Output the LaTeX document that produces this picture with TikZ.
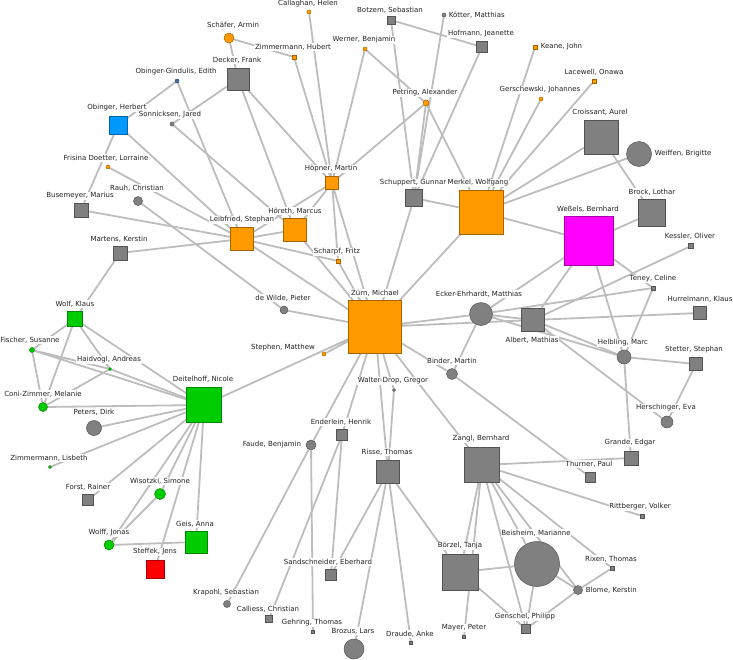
\documentclass[tikz,border=0pt]{standalone}
\usepackage{fontspec}
\setmainfont{DejaVu Sans}
\usetikzlibrary{backgrounds}
\definecolor{NetOrange}{HTML}{FF9900}
\definecolor{NetGray}{HTML}{808080}
\definecolor{NetGreen}{HTML}{00CC00}
\definecolor{NetMagenta}{HTML}{FF00FF}
\definecolor{NetBlue}{HTML}{0099FF}
\definecolor{NetSlate}{HTML}{3F6E9E}
\definecolor{NetRed}{HTML}{FF0000}
\definecolor{NetLink}{HTML}{BDBDBD}
\definecolor{NetText}{HTML}{222222}
\tikzset{
  sq/.style={rectangle, draw=#1!65!black, fill=#1, line width=0.5pt, inner sep=0pt},
  rnd/.style={circle, draw=#1!65!black, fill=#1, line width=0.5pt, inner sep=0pt},
  lbl/.style={fill=white, inner sep=0.7pt, text=NetText, font=\fontsize{7}{8.4}\selectfont},
  lnk/.style={draw=NetLink, line width=1.8pt}
}

\begin{document}
\begin{tikzpicture}[x=1pt, y=-1pt]
\useasboundingbox (0,0) rectangle (733,659);
% nodes
\node[rnd=NetOrange, minimum size=4pt] (callaghan) at (309,12) {};
\node[sq=NetGray, minimum size=8pt] (botzem) at (391,20) {};
\node[rnd=NetGray, minimum size=4pt] (koetter) at (444,15) {};
\node[rnd=NetOrange, minimum size=10pt] (schaefer) at (229,38) {};
\node[sq=NetOrange, minimum size=4pt] (zimmermannh) at (294,57) {};
\node[rnd=NetOrange, minimum size=4pt] (werner) at (365,49) {};
\node[sq=NetGray, minimum size=11pt] (hofmann) at (482,47) {};
\node[sq=NetOrange, minimum size=4pt] (keane) at (535,47) {};
\node[sq=NetGray, minimum size=22pt] (decker) at (238,79) {};
\node[rnd=NetSlate, minimum size=4pt] (obingerg) at (177,81) {};
\node[sq=NetOrange, minimum size=4pt] (lacewell) at (594,81) {};
\node[rnd=NetOrange, minimum size=6pt] (petring) at (426,103) {};
\node[rnd=NetOrange, minimum size=4pt] (gerschewski) at (541,99) {};
\node[sq=NetBlue, minimum size=18pt] (obinger) at (118,125) {};
\node[rnd=NetGray, minimum size=4pt] (sonnicksen) at (172,124) {};
\node[sq=NetGray, minimum size=34pt] (croissant) at (601,137) {};
\node[rnd=NetGray, minimum size=25pt] (weiffen) at (639,154) {};
\node[rnd=NetOrange, minimum size=4pt] (frisina) at (108,167) {};
\node[sq=NetOrange, minimum size=13pt] (hoepner) at (332,183) {};
\node[sq=NetGray, minimum size=17pt] (schuppert) at (414,198) {};
\node[sq=NetOrange, minimum size=44pt] (merkel) at (481,212) {};
\node[rnd=NetGray, minimum size=9pt] (rauh) at (138,201) {};
\node[sq=NetGray, minimum size=14pt] (busemeyer) at (81,210) {};
\node[sq=NetGray, minimum size=27pt] (brock) at (652,213) {};
\node[sq=NetOrange, minimum size=23pt] (leibfried) at (242,239) {};
\node[sq=NetOrange, minimum size=23pt] (hoereth) at (295,230) {};
\node[sq=NetMagenta, minimum size=49pt] (wessels) at (589,241) {};
\node[sq=NetOrange, minimum size=4pt] (scharpf) at (338,261) {};
\node[sq=NetGray, minimum size=14pt] (martens) at (120,253) {};
\node[sq=NetGray, minimum size=5pt] (kessler) at (691,246) {};
\node[sq=NetGray, minimum size=4pt] (teney) at (653,288) {};
\node[sq=NetGray, minimum size=13pt] (hurrelmann) at (700,313) {};
\node[rnd=NetGray, minimum size=8pt] (dewilde) at (284,310) {};
\node[sq=NetOrange, minimum size=53pt] (zuern) at (375,327) {};
\node[rnd=NetGray, minimum size=23pt] (ecker) at (481,314) {};
\node[sq=NetGreen, minimum size=15pt] (wolfk) at (75,319) {};
\node[sq=NetGray, minimum size=23pt] (albert) at (533,320) {};
\node[rnd=NetGreen, minimum size=5pt] (fischer) at (32,350) {};
\node[rnd=NetGreen, minimum size=3pt] (haidvogl) at (110,369) {};
\node[rnd=NetGray, minimum size=14pt] (helbling) at (624,357) {};
\node[sq=NetGray, minimum size=13pt] (stetter) at (696,364) {};
\node[rnd=NetOrange, minimum size=4pt] (stephen) at (324,354) {};
\node[rnd=NetGray, minimum size=11pt] (binder) at (452,374) {};
\node[rnd=NetGreen, minimum size=9pt] (conizimmer) at (43,407) {};
\node[sq=NetGreen, minimum size=35pt] (deitelhoff) at (204,405) {};
\node[rnd=NetGray, minimum size=3pt] (walterdrop) at (394,390) {};
\node[rnd=NetGray, minimum size=15pt] (peters) at (94,428) {};
\node[rnd=NetGray, minimum size=12pt] (herschinger) at (667,422) {};
\node[sq=NetGray, minimum size=11pt] (enderlein) at (342,435) {};
\node[rnd=NetGray, minimum size=10pt] (faude) at (311,445) {};
\node[sq=NetGray, minimum size=14pt] (grande) at (631,458) {};
\node[rnd=NetGreen, minimum size=3pt] (zimmermannl) at (50,467) {};
\node[sq=NetGray, minimum size=23pt] (risse) at (388,472) {};
\node[sq=NetGray, minimum size=35pt] (zangl) at (482,465) {};
\node[sq=NetGray, minimum size=10pt] (thurner) at (590,477) {};
\node[sq=NetGray, minimum size=11pt] (forst) at (88,500) {};
\node[rnd=NetGreen, minimum size=11pt] (wisotzki) at (160,494) {};
\node[sq=NetGray, minimum size=4pt] (rittberger) at (642,516) {};
\node[rnd=NetGreen, minimum size=10pt] (wolffj) at (109,545) {};
\node[sq=NetGreen, minimum size=22pt] (geis) at (196,542) {};
\node[rnd=NetGray, minimum size=45pt] (beisheim) at (537,564) {};
\node[sq=NetRed, minimum size=18pt] (steffek) at (155,569) {};
\node[sq=NetGray, minimum size=4pt] (rixen) at (612,568) {};
\node[sq=NetGray, minimum size=36pt] (boerzel) at (460,572) {};
\node[sq=NetGray, minimum size=11pt] (sandschneider) at (331,575) {};
\node[rnd=NetGray, minimum size=9pt] (blome) at (578,590) {};
\node[rnd=NetGray, minimum size=7pt] (krapohl) at (227,604) {};
\node[sq=NetGray, minimum size=7pt] (calliess) at (269,619) {};
\node[sq=NetGray, minimum size=9pt] (genschel) at (526,629) {};
\node[sq=NetGray, minimum size=3pt] (mayer) at (464,637) {};
\node[sq=NetGray, minimum size=3pt] (gehring) at (313,632) {};
\node[rnd=NetGray, minimum size=20pt] (brozus) at (354,649) {};
\node[sq=NetGray, minimum size=3pt] (draude) at (411,643) {};
% links
\begin{scope}[on background layer]
\draw[lnk] (schaefer) -- (decker) (schaefer) -- (zimmermannh);
\draw[lnk] (zimmermannh) -- (hoepner) (callaghan) -- (hoepner);
\draw[lnk] (werner) -- (hoepner) (werner) -- (petring);
\draw[lnk] (petring) -- (hoepner) (petring) -- (schuppert) (petring) -- (merkel);
\draw[lnk] (botzem) -- (hofmann) (botzem) -- (schuppert);
\draw[lnk] (koetter) -- (schuppert) (hofmann) -- (schuppert);
\draw[lnk] (keane) -- (merkel) (gerschewski) -- (merkel) (lacewell) -- (merkel);
\draw[lnk] (croissant) -- (merkel) (croissant) -- (brock) (weiffen) -- (merkel);
\draw[lnk] (schuppert) -- (merkel) (schuppert) -- (zuern);
\draw[lnk] (merkel) -- (zuern) (merkel) -- (wessels);
\draw[lnk] (wessels) -- (brock) (wessels) -- (ecker) (wessels) -- (albert);
\draw[lnk] (wessels) -- (teney) (wessels) -- (helbling);
\draw[lnk] (kessler) -- (albert);
\draw[lnk] (ecker) -- (teney) (ecker) -- (albert) (ecker) -- (helbling) (ecker) -- (binder);
\draw[lnk] (zuern) -- (ecker) (zuern) -- (albert);
\draw[lnk] (albert) -- (hurrelmann) (albert) -- (helbling) (albert) -- (herschinger);
\draw[lnk] (teney) -- (helbling) (helbling) -- (stetter) (helbling) -- (grande);
\draw[lnk] (stetter) -- (herschinger);
\draw[lnk] (decker) -- (sonnicksen) (decker) -- (hoepner) (decker) -- (hoereth);
\draw[lnk] (obingerg) -- (obinger) (obingerg) -- (leibfried);
\draw[lnk] (obinger) -- (leibfried) (obinger) -- (busemeyer);
\draw[lnk] (busemeyer) -- (leibfried) (martens) -- (leibfried) (martens) -- (wolfk);
\draw[lnk] (frisina) -- (leibfried) (sonnicksen) -- (hoereth);
\draw[lnk] (rauh) -- (dewilde) (dewilde) -- (zuern);
\draw[lnk] (leibfried) -- (hoereth) (leibfried) -- (hoepner) (hoereth) -- (hoepner);
\draw[lnk] (leibfried) -- (scharpf) (leibfried) -- (zuern) (hoereth) -- (zuern);
\draw[lnk] (hoepner) -- (scharpf) (hoepner) -- (zuern) (scharpf) -- (zuern);
\draw[lnk] (stephen) -- (zuern) (deitelhoff) -- (zuern);
\draw[lnk] (zuern) -- (binder) (binder) -- (thurner);
\draw[lnk] (zuern) -- (walterdrop) (walterdrop) -- (risse) (zuern) -- (risse);
\draw[lnk] (zuern) -- (enderlein) (zuern) -- (faude);
\draw[lnk] (faude) -- (krapohl) (faude) -- (gehring);
\draw[lnk] (enderlein) -- (sandschneider) (enderlein) -- (calliess);
\draw[lnk] (risse) -- (sandschneider) (risse) -- (brozus) (risse) -- (draude) (risse) -- (boerzel);
\draw[lnk] (zuern) -- (zangl) (zangl) -- (grande) (zangl) -- (rittberger) (zangl) -- (rixen);
\draw[lnk] (zangl) -- (beisheim) (zangl) -- (blome) (zangl) -- (genschel);
\draw[lnk] (zangl) -- (boerzel) (zangl) -- (mayer);
\draw[lnk] (boerzel) -- (beisheim) (boerzel) -- (genschel);
\draw[lnk] (beisheim) -- (genschel) (beisheim) -- (blome);
\draw[lnk] (blome) -- (genschel) (blome) -- (rixen);
\draw[lnk] (wolfk) -- (fischer) (wolfk) -- (conizimmer) (wolfk) -- (haidvogl) (wolfk) -- (deitelhoff);
\draw[lnk] (fischer) -- (conizimmer) (fischer) -- (haidvogl) (fischer) -- (deitelhoff);
\draw[lnk] (haidvogl) -- (conizimmer) (haidvogl) -- (deitelhoff) (conizimmer) -- (deitelhoff);
\draw[lnk] (peters) -- (deitelhoff) (deitelhoff) -- (zimmermannl) (deitelhoff) -- (forst);
\draw[lnk] (deitelhoff) -- (wolffj) (deitelhoff) -- (wisotzki) (deitelhoff) -- (steffek) (deitelhoff) -- (geis);
\draw[lnk] (wolffj) -- (wisotzki) (wolffj) -- (geis);
\end{scope}
% labels
\node[lbl] (callaghanlbl) at (308,4) {Callaghan, Helen};
\node[lbl] (botzemlbl) at (390,10) {Botzem, Sebastian};
\node[lbl, anchor=west] (koetterlbl) at (448,15) {Kötter, Matthias};
\node[lbl] (schaeferlbl) at (233,25) {Schäfer, Armin};
\node[lbl] (zimmermannhlbl) at (293,47) {Zimmermann, Hubert};
\node[lbl] (wernerlbl) at (364,40) {Werner, Benjamin};
\node[lbl] (hofmannlbl) at (481,34) {Hofmann, Jeanette};
\node[lbl, anchor=west] (keanelbl) at (540,47) {Keane, John};
\node[lbl] (deckerlbl) at (237,60) {Decker, Frank};
\node[lbl] (obingerglbl) at (176,72) {Obinger-Gindulis, Edith};
\node[lbl] (lacewelllbl) at (594,72) {Lacewell, Onawa};
\node[lbl] (petringlbl) at (425,93) {Petring, Alexander};
\node[lbl] (gerschewskilbl) at (540,90) {Gerschewski, Johannes};
\node[lbl] (obingerlbl) at (117,108) {Obinger, Herbert};
\node[lbl] (sonnicksenlbl) at (170,115) {Sonnicksen, Jared};
\node[lbl] (croissantlbl) at (600,112) {Croissant, Aurel};
\node[lbl, anchor=west] (weiffenlbl) at (654,154) {Weiffen, Brigitte};
\node[lbl] (frisinalbl) at (106,158) {Frisina Doetter, Lorraine};
\node[lbl] (hoepnerlbl) at (331,169) {Höpner, Martin};
\node[lbl] (merkellbl) at (478,183) {Merkel, Wolfgang};
\node[lbl] (schuppertlbl) at (413,183) {Schuppert, Gunnar};
\node[lbl] (rauhlbl) at (137,188) {Rauh, Christian};
\node[lbl] (busemeyerlbl) at (80,196) {Busemeyer, Marius};
\node[lbl] (brocklbl) at (652,192) {Brock, Lothar};
\node[lbl] (leibfriedlbl) at (242,220) {Leibfried, Stephan};
\node[lbl] (hoerethlbl) at (295,211) {Höreth, Marcus};
\node[lbl] (wesselslbl) at (588,209) {Weßels, Bernhard};
\node[lbl] (scharpflbl) at (337,252) {Scharpf, Fritz};
\node[lbl] (martenslbl) at (119,239) {Martens, Kerstin};
\node[lbl] (kesslerlbl) at (690,236) {Kessler, Oliver};
\node[lbl] (teneylbl) at (653,279) {Teney, Celine};
\node[lbl] (hurrelmannlbl) at (700,299) {Hurrelmann, Klaus};
\node[lbl] (dewildelbl) at (283,298) {de Wilde, Pieter};
\node[lbl] (zuernlbl) at (375,293) {Zürn, Michael};
\node[lbl] (eckerlbl) at (479,294) {Ecker-Ehrhardt, Matthias};
\node[lbl] (wolfklbl) at (75,304) {Wolf, Klaus};
\node[lbl] (albertlbl) at (532,340) {Albert, Mathias};
\node[lbl] (fischerlbl) at (30,340) {Fischer, Susanne};
\node[lbl] (haidvogllbl) at (109,360) {Haidvogl, Andreas};
\node[lbl] (helblinglbl) at (623,343) {Helbling, Marc};
\node[lbl] (stetterlbl) at (694,350) {Stetter, Stephan};
\node[lbl] (stephenlbl) at (283,348) {Stephen, Matthew};
\node[lbl] (binderlbl) at (452,361) {Binder, Martin};
\node[lbl] (conizimmerlbl) at (43,394) {Coni-Zimmer, Melanie};
\node[lbl] (deitelhofflbl) at (203,379) {Deitelhoff, Nicole};
\node[lbl] (walterdroplbl) at (393,381) {Walter-Drop, Gregor};
\node[lbl] (peterslbl) at (94,412) {Peters, Dirk};
\node[lbl] (herschingerlbl) at (666,408) {Herschinger, Eva};
\node[lbl] (enderleinlbl) at (341,422) {Enderlein, Henrik};
\node[lbl, anchor=east] (faudelbl) at (302,445) {Faude, Benjamin};
\node[lbl] (grandelbl) at (630,443) {Grande, Edgar};
\node[lbl] (zimmermannllbl) at (49,458) {Zimmermann, Lisbeth};
\node[lbl] (risselbl) at (387,452) {Risse, Thomas};
\node[lbl] (zangllbl) at (481,439) {Zangl, Bernhard};
\node[lbl] (thurnerlbl) at (589,464) {Thurner, Paul};
\node[lbl] (forstlbl) at (88,487) {Forst, Rainer};
\node[lbl] (wisotzkilbl) at (160,481) {Wisotzki, Simone};
\node[lbl] (rittbergerlbl) at (640,507) {Rittberger, Volker};
\node[lbl] (wolffjlbl) at (109,533) {Wolff, Jonas};
\node[lbl] (geislbl) at (195,524) {Geis, Anna};
\node[lbl] (beisheimlbl) at (536,533) {Beisheim, Marianne};
\node[lbl] (steffeklbl) at (155,552) {Steffek, Jens};
\node[lbl] (rixenlbl) at (611,559) {Rixen, Thomas};
\node[lbl] (boerzellbl) at (460,546) {Börzel, Tanja};
\node[lbl] (sandschneiderlbl) at (328,562) {Sandschneider, Eberhard};
\node[lbl, anchor=west] (blomelbl) at (585,590) {Blome, Kerstin};
\node[lbl] (krapohllbl) at (226,593) {Krapohl, Sebastian};
\node[lbl] (calliesslbl) at (268,609) {Calliess, Christian};
\node[lbl] (genschellbl) at (525,617) {Genschel, Philipp};
\node[lbl] (mayerlbl) at (464,628) {Mayer, Peter};
\node[lbl] (gehringlbl) at (312,623) {Gehring, Thomas};
\node[lbl] (brozuslbl) at (353,631) {Brozus, Lars};
\node[lbl] (draudelbl) at (410,634) {Draude, Anke};
\end{tikzpicture}
\end{document}
